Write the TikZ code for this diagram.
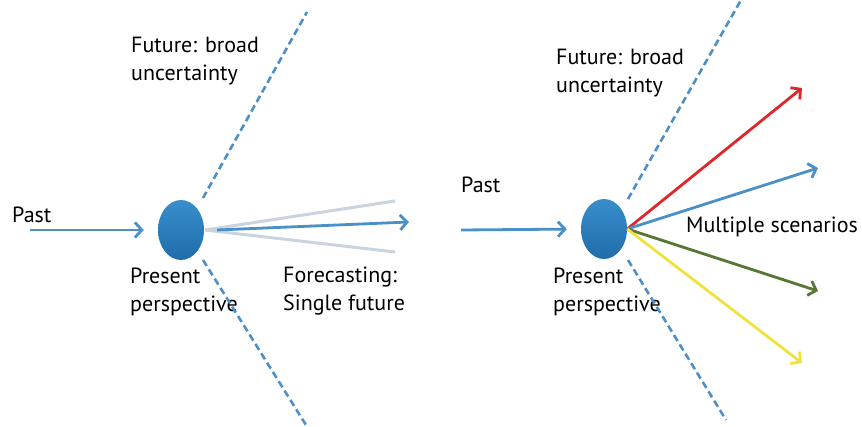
\documentclass[tikz,border=0pt]{standalone}
\usepackage{fontspec}
\setmainfont{PT Sans}
\usetikzlibrary{arrows.meta,shapes.geometric}

\definecolor{flowblue}{RGB}{74,144,200}
\definecolor{dashblue}{RGB}{80,143,198}
\definecolor{fadegray}{RGB}{200,212,224}
\definecolor{scenred}{RGB}{222,38,43}
\definecolor{scengreen}{RGB}{88,118,52}
\definecolor{scenyellow}{RGB}{240,226,60}

\tikzset{
    flow/.style={line width=2.8pt, -{Straight Barb[length=7pt,width=15pt]}},
    bound/.style={line width=2.6pt, dashblue, dash pattern=on 7pt off 4pt},
    nowdot/.style={ellipse, minimum width=46pt, minimum height=60pt, inner sep=0pt,
        top color={rgb,255:red,56;green,142;blue,204}, bottom color={rgb,255:red,32;green,108;blue,170}},
    lbl/.style={font=\fontsize{22}{28}\selectfont, align=left, inner sep=0pt, anchor=west},
}

\begin{document}
\begin{tikzpicture}[x=1pt,y=-1pt]
    \useasboundingbox (0,0) rectangle (862,427);

    % left: forecasting
    \node[nowdot] (nowL) at (181,230) {};
    \node[lbl] (pastL) at (12,215) {Past};
    \node[lbl] (presL) at (130,292) {Present\\perspective};
    \node[lbl] (futL) at (131,61) {Future: broad\\uncertainty};
    \node[lbl] (fcL) at (283,291) {Forecasting:\\Single future};
    \coordinate (pastLs) at (30,230);
    \coordinate (bndLa) at (203,198);
    \coordinate (bndLb) at (307,12);
    \coordinate (bndLc) at (203,260);
    \coordinate (bndLd) at (306,425);
    \coordinate (fcLs) at (205,230);
    \coordinate (fcLup) at (395,201);
    \coordinate (fcLlo) at (395,252);
    \coordinate (fcLa) at (217,230);
    \coordinate (fcLe) at (409,222);

    \draw[flow, flowblue, shorten >=14pt] (pastLs) -- (nowL.west);
    \draw[bound] (bndLa) -- (bndLb);
    \draw[bound] (bndLc) -- (bndLd);
    \draw[line width=3pt, fadegray] (fcLs) -- (fcLup);
    \draw[line width=3pt, fadegray] (fcLs) -- (fcLlo);
    \draw[flow, flowblue] (fcLa) -- (fcLe);

    % right: scenarios
    \node[nowdot] (nowR) at (604,229) {};
    \node[lbl] (pastR) at (461,185) {Past};
    \node[lbl] (presR) at (553,292) {Present\\perspective};
    \node[lbl] (futR) at (556,73) {Future: broad\\uncertainty};
    \node[lbl] (multi) at (686,227) {Multiple scenarios};
    \coordinate (pastRs) at (461,230);
    \coordinate (bndRa) at (628,199);
    \coordinate (bndRb) at (741,0);
    \coordinate (bndRc) at (628,260);
    \coordinate (bndRd) at (726,420);
    \coordinate (scA) at (802,88);
    \coordinate (scB) at (818,168);
    \coordinate (scC) at (818,291);
    \coordinate (scD) at (802,363);

    \draw[flow, flowblue, shorten >=14pt] (pastRs) -- (nowR.west);
    \draw[bound] (bndRa) -- (bndRb);
    \draw[bound] (bndRc) -- (bndRd);
    \draw[flow, scenred] (nowR.east) -- (scA);
    \draw[flow, flowblue] (nowR.east) -- (scB);
    \draw[flow, scengreen] (nowR.east) -- (scC);
    \draw[flow, scenyellow] (nowR.east) -- (scD);
\end{tikzpicture}
\end{document}
